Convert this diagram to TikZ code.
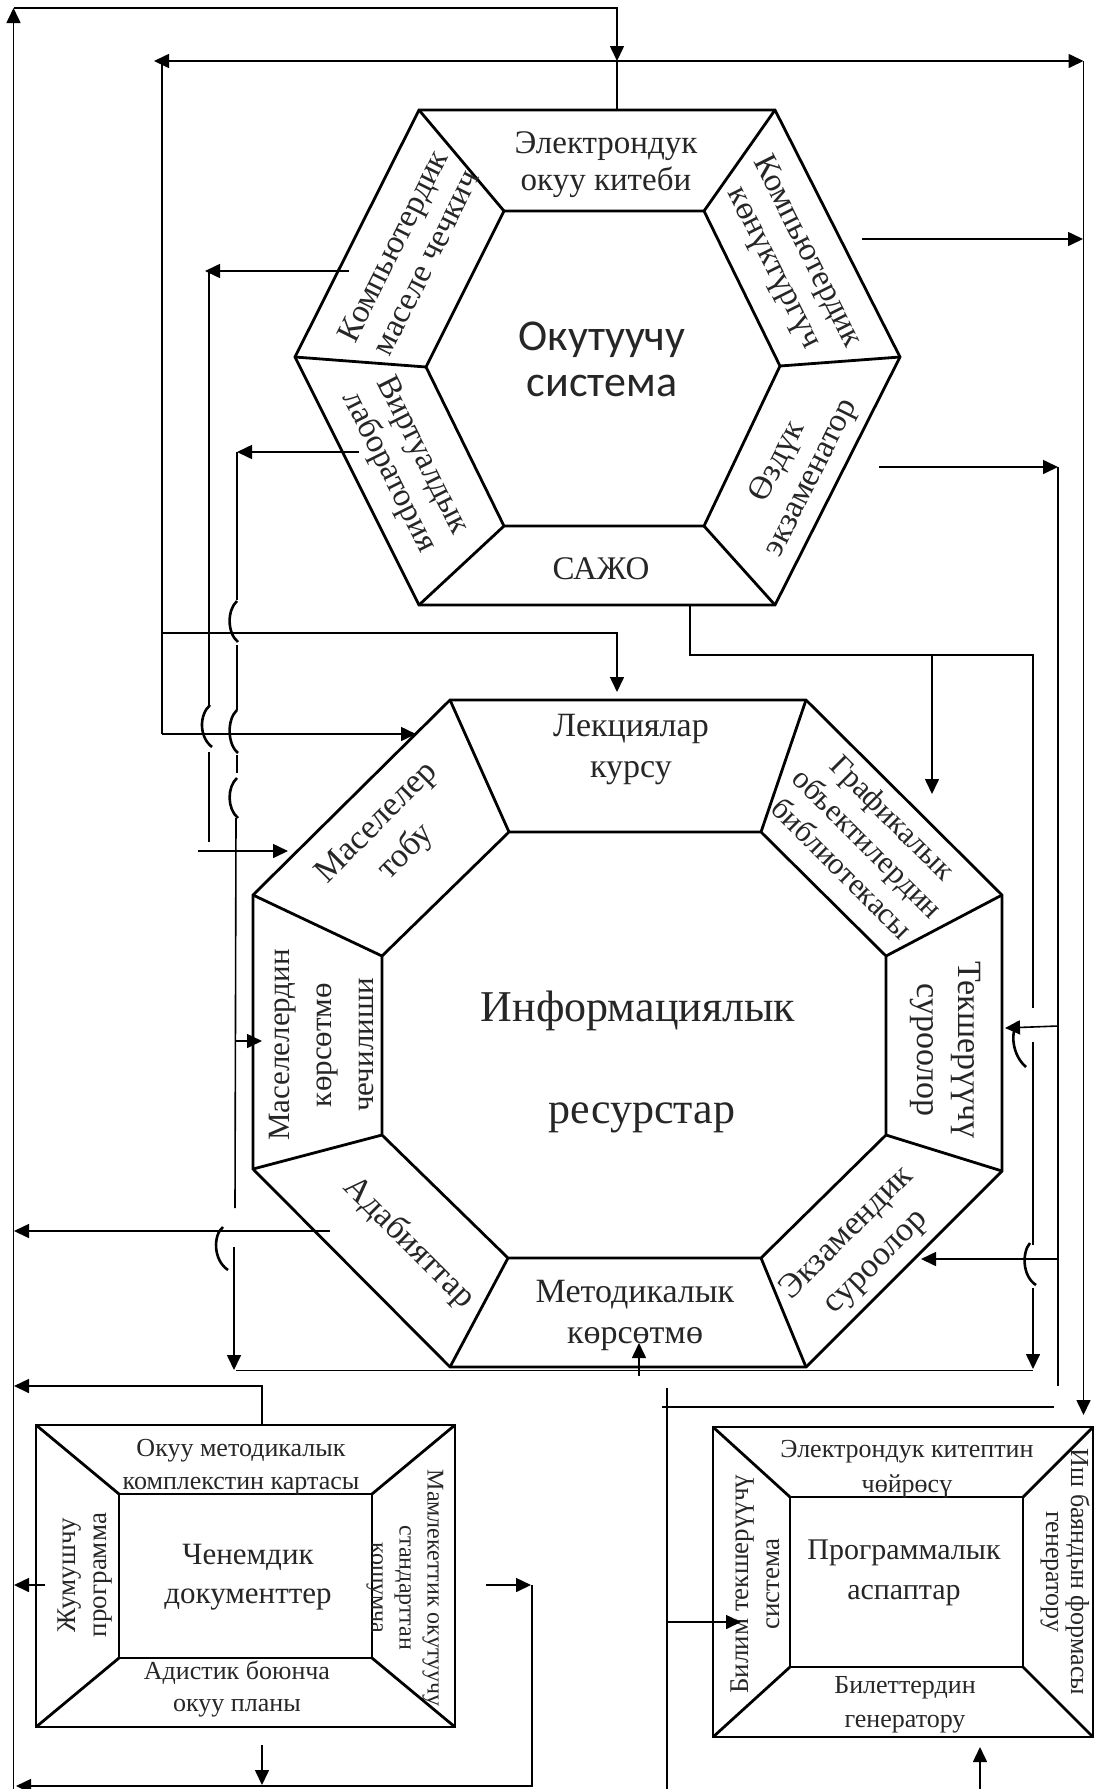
\documentclass[tikz,border=0pt]{standalone}
\usepackage{fontspec}
\setmainfont{Liberation Serif}
\newfontfamily\calib{Carlito}
\usetikzlibrary{arrows.meta}
\begin{document}
\begin{tikzpicture}[x=0.5pt,y=-0.5pt,
  shp/.style={line width=1.4pt, line join=miter},
  conn/.style={line width=0.8pt},
  arr/.style={conn,-{Triangle[length=7.5pt,width=7pt]}},
  darr/.style={conn,{Triangle[length=7.5pt,width=7pt]}-{Triangle[length=7.5pt,width=7pt]}},
  hop/.style={line width=1.3pt},
  lbl/.style={text=black!85, align=center, inner sep=0pt, font=\fontsize{16.5}{18.5}\selectfont},
  olbl/.style={text=black!85, align=center, inner sep=0pt, font=\fontsize{17}{20.5}\selectfont},
  blbl/.style={text=black!85, align=center, inner sep=0pt, font=\fontsize{13}{16.5}\selectfont},
  big/.style={text=black!85, align=center, inner sep=0pt, font=\fontsize{22}{23}\selectfont},
]
\useasboundingbox (0,0) rectangle (1094,1789);
\fill[white] (0,0) rectangle (1094,1789);

% ---------- hexagon ----------
\draw[shp] (419,110)--(775,110)--(900,357)--(775,605)--(419,605)--(295,357)--cycle;
\draw[shp] (504,211)--(704,211)--(780,366)--(704,526)--(504,526)--(426,367)--cycle;
\draw[shp] (419,110)--(504,211) (775,110)--(704,211) (900,357)--(780,366)
           (775,605)--(704,526) (419,605)--(504,526) (295,357)--(426,367);
\node[lbl] (ebook) at (606,165) {Электрондук\\окуу китеби};
\node[big, font=\calib\fontsize{22}{23}\selectfont] (oksys) at (602,359) {Окутуучу\\система};
\node[lbl] (sajo) at (601,569) {САЖО};
\node[lbl, rotate=63.4] (kmch) at (409,254) {Компьютердик\\маселе чечкич};
\node[lbl, rotate=-63.4] (kkon) at (790,260) {Компьютердик\\көнүктүргүч};
\node[lbl, rotate=-63.4] (virt) at (405,464) {Виртуалдык\\лаборатория};
\node[lbl, rotate=63.4] (ozd) at (795,470) {Өздүк\\экзаменатор};

% ---------- octagon ----------
\draw[shp] (450,700)--(806,700)--(1002,895)--(1002,1171)--(806,1367)--(450,1367)--(253,1169)--(253,895)--cycle;
\draw[shp] (509,832)--(761,832)--(886,956)--(886,1135)--(761,1258)--(508,1258)--(382,1135)--(382,956)--cycle;
\draw[shp] (450,700)--(509,832) (806,700)--(761,832) (1002,895)--(886,956) (1002,1171)--(886,1135)
           (806,1367)--(761,1258) (450,1367)--(508,1258) (253,1169)--(382,1135) (253,895)--(382,956);
\node[olbl] (lek) at (631,750) {Лекциялар\\курсу};
\node[big, font=\fontsize{22}{23}\selectfont] (inf1) at (638,1011) {Информациялык};
\node[big, font=\fontsize{22}{23}\selectfont] (inf2) at (642,1118) {ресурстар};
\node[olbl] (met) at (635,1315) {Методикалык\\көрсөтмө};
\node[olbl, rotate=-45, font=\fontsize{15.5}{18}\selectfont] (graf) at (868,843) {Графикалык\\объектилердин\\библиотекасы};
\node[olbl, rotate=45] (mtob) at (392,838) {Маселелер\\тобу};
\node[olbl, rotate=-90] (teksh) at (945,1050) {Текшерүүчү\\суроолор};
\node[olbl, rotate=90, font=\fontsize{15.5}{21}\selectfont] (mkor) at (321,1045) {Маселелердин\\көрсөтмө\\чечилиши};
\node[olbl, rotate=45] (ekz) at (862,1248) {Экзамендик\\суроолор};
\node[olbl, rotate=-45] (adab) at (409,1243) {Адабияттар};

% ---------- bottom-left box ----------
\draw[shp] (36,1425) rectangle (455,1727);
\draw[shp] (119,1494) rectangle (372,1658);
\draw[shp] (36,1425)--(119,1494) (455,1425)--(372,1494) (36,1727)--(119,1658) (455,1727)--(372,1658);
\node[blbl] (okmk) at (241,1467) {Окуу методикалык\\комплекстин картасы};
\node[blbl, font=\fontsize{15.5}{19.5}\selectfont] (chen) at (248,1577) {Ченемдик\\документтер};
\node[blbl, font=\fontsize{13}{16}\selectfont] (adis) at (237,1689) {Адистик боюнча\\окуу планы};
\node[blbl, rotate=90, font=\fontsize{13.5}{15.5}\selectfont] (jum) at (85,1575) {Жумушчу\\программа};
\node[blbl, rotate=-90, font=\fontsize{12}{14}\selectfont] (maml) at (405,1588) {Мамлекеттик окутуучу\\стандарттан\\кошумча};

% ---------- bottom-right box ----------
\draw[shp] (713,1427) rectangle (1093,1737);
\draw[shp] (790,1497) rectangle (1023,1667);
\draw[shp] (713,1427)--(790,1497) (1093,1427)--(1023,1497) (713,1737)--(790,1667) (1093,1737)--(1023,1667);
\node[blbl, font=\fontsize{13}{17.5}\selectfont] (ekit) at (907,1469) {Электрондук китептин\\чөйрөсү};
\node[blbl, font=\fontsize{15}{20}\selectfont] (prog) at (904,1573) {Программалык\\аспаптар};
\node[blbl, font=\fontsize{13}{17}\selectfont] (bil) at (905,1705) {Билеттердин\\генератору};
\node[blbl, rotate=90, font=\fontsize{13.5}{15.5}\selectfont] (bilt) at (755,1584) {Билим текшерүүчү\\система};
\node[blbl, rotate=-90, font=\fontsize{13}{12.5}\selectfont] (ish) at (1065,1572) {Иш баяндын формасы\\генератору};

% ---------- coordinates ----------
\coordinate (TL) at (13.5,8);
\coordinate (LB) at (13.5,1789);
\coordinate (TT) at (617,8);
\coordinate (TM) at (617,61);
\coordinate (HT) at (617,110);
\coordinate (DL) at (154,61);
\coordinate (DR) at (1083.5,61);
\coordinate (VL1) at (162,61);
\coordinate (VL2) at (162,734);
\coordinate (LK1) at (162,633);
\coordinate (LK2) at (617,633);
\coordinate (LK3) at (617,692);
\coordinate (MT) at (416,734);
\coordinate (PRtop) at (1083.5,1415);

% ---------- outer frame connectors ----------
\draw[arr] (LB) -- (TL);
\draw[arr] (TL) -- (TT) -- (TM);
\draw[conn] (TM) -- (HT);
\draw[darr] (DL) -- (DR);
\draw[arr] (DR) -- (PRtop);
\draw[conn] (VL1) -- (VL2);
\draw[arr] (LK1) -- (LK2) -- (LK3);
\draw[arr] (VL2) -- (MT);

% ---------- left side from hexagon ----------
\coordinate (K1) at (349,271);
\coordinate (K2) at (205,271);
\draw[arr] (K1) -- (K2);
\draw[conn] (209,271) -- (209,705);
\draw[hop] (210,705) .. controls (199,715) and (199,737) .. (212,747);
\draw[conn] (209,752) -- (209,842);
\coordinate (M1) at (198,851);
\coordinate (M2) at (288,851);
\draw[arr] (M1) -- (M2);

\coordinate (V1) at (359,452);
\coordinate (V2) at (237,452);
\draw[arr] (V1) -- (V2);
\draw[conn] (237,452) -- (237,600);
\draw[hop] (237,601) .. controls (227,610) and (227,633) .. (238,642);
\draw[conn] (237,645) -- (237,710);
\draw[hop] (237,710) .. controls (227,719) and (227,744) .. (238,753);
\draw[conn] (237,755) -- (237,773);
\draw[hop] (237,778) .. controls (227,787) and (227,809) .. (238,818);
\draw[conn] (236,818) -- (235,1208);
\draw[hop] (223,1227) .. controls (213,1235) and (213,1260) .. (228,1270);
\coordinate (BL) at (234,1370);
\draw[arr] (234,1247) -- (BL);
\coordinate (MK1) at (235,1041);
\coordinate (MK2) at (262,1041);
\draw[arr] (MK1) -- (MK2);
\coordinate (AD1) at (330,1231);
\coordinate (AD2) at (14,1231);
\draw[arr] (AD1) -- (AD2);

% ---------- right side from hexagon ----------
\coordinate (KK1) at (862,239);
\coordinate (KK2) at (1083,239);
\draw[arr] (KK1) -- (KK2);
\coordinate (OZ1) at (879,467);
\coordinate (OZ2) at (1058,467);
\draw[arr] (OZ1) -- (OZ2);
\draw[conn] (OZ2) -- (1058,1386);
\coordinate (TQ) at (1005,1028);
\draw[arr] (1058,1026) -- (TQ);
\coordinate (EQ) at (921,1259);
\draw[arr] (1058,1259) -- (EQ);

\coordinate (S1) at (690,605);
\coordinate (S2) at (1033,655);
\draw[conn] (S1) -- (690,655) -- (S2) -- (1033,1008);
\draw[hop] (1018,1022) .. controls (1010,1032) and (1012,1055) .. (1026,1067);
\draw[conn] (1033,1042) -- (1033,1245);
\draw[hop] (1030,1243) .. controls (1022,1252) and (1022,1276) .. (1036,1285);
\coordinate (BR) at (1033,1369);
\draw[arr] (1033,1288) -- (BR);
\coordinate (G1) at (932,655);
\coordinate (G2) at (932,794);
\draw[arr] (G1) -- (G2);

% bottom line under octagon
\draw[conn] (236,1370.5) -- (1033,1370.5);
\coordinate (MU1) at (639,1376);
\coordinate (MU2) at (639,1343);
\draw[arr] (MU1) -- (MU2);

% ---------- bottom area ----------
\draw[conn] (662,1407) -- (1054,1407);
\coordinate (BT1) at (667,1388);
\coordinate (BT2) at (667,1789);
\draw[conn] (BT1) -- (BT2);
\coordinate (BT3) at (741,1622);
\draw[arr] (667,1622) -- (BT3);
\coordinate (BG1) at (980,1789);
\coordinate (BG2) at (980,1747);
\draw[arr] (BG1) -- (BG2);

\coordinate (C1) at (262,1425);
\coordinate (C2) at (262,1386);
\coordinate (C3) at (14,1386);
\draw[arr] (C1) -- (C2) -- (C3);
\coordinate (CL1) at (45,1585);
\coordinate (CL2) at (14,1585);
\draw[arr] (CL1) -- (CL2);
\coordinate (CR1) at (486,1585);
\coordinate (CR2) at (531,1585);
\draw[arr] (CR1) -- (CR2);
\coordinate (CB1) at (262,1745);
\coordinate (CB2) at (262,1785);
\draw[arr] (CB1) -- (CB2);
\coordinate (CC) at (532,1585);
\coordinate (CD) at (16,1786);
\draw[arr] (CC) -- (532,1786) -- (CD);
\end{tikzpicture}
\end{document}
